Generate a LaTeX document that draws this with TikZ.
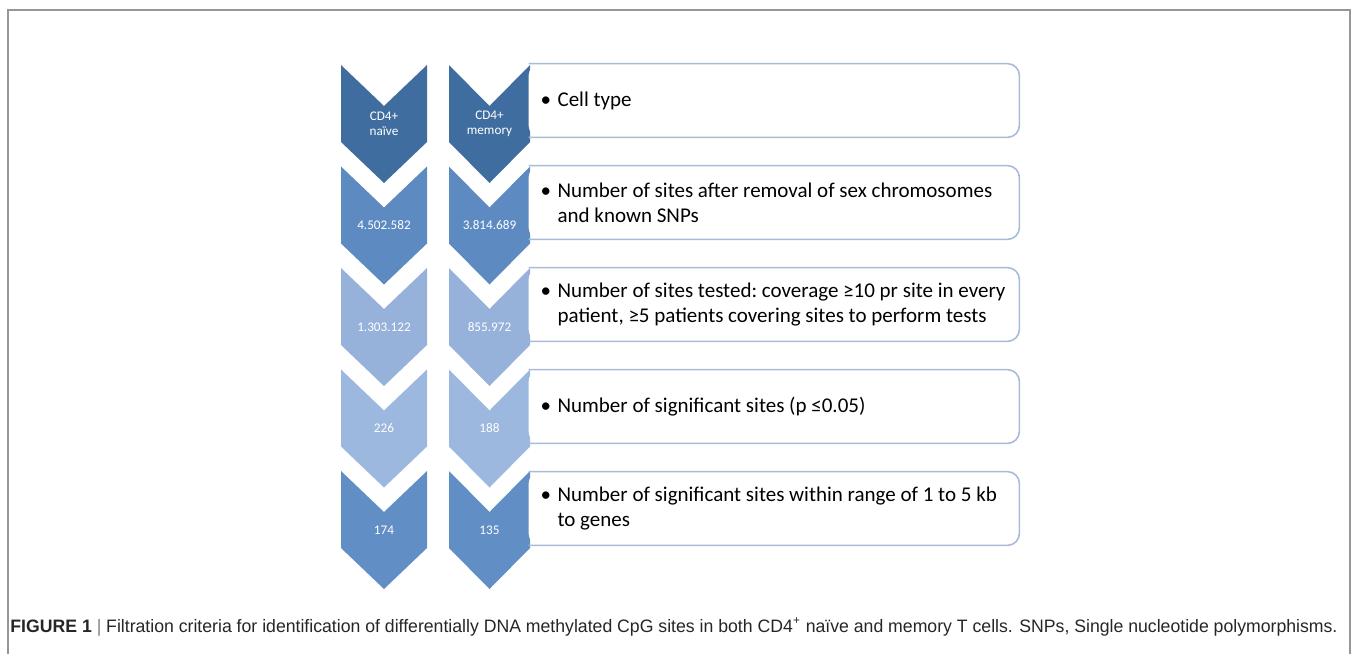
\documentclass[tikz,border=0pt]{standalone}
\usepackage{fontspec}
\usepackage{graphicx}
\setmainfont{Carlito}
\newfontfamily\capfont{Liberation Sans}
\usetikzlibrary{positioning}

% colours of the rows
\definecolor{rowA}{RGB}{64,109,160}
\definecolor{rowB}{RGB}{93,139,193}
\definecolor{rowC}{RGB}{150,178,219}
\definecolor{rowD}{RGB}{157,184,223}
\definecolor{rowE}{RGB}{97,142,197}
\definecolor{boxline}{RGB}{168,188,216}
\definecolor{frame}{RGB}{150,150,150}

\tikzset{
  lab/.style={text=white, align=center, font=\fontsize{6.6}{7.5}\selectfont},
  box/.style={minimum width=245pt, minimum height=36.5pt, inner sep=0pt},
  boxedge/.style={draw=boxline, line width=0.8pt, rounded corners=6pt},
  txt/.style={anchor=west, align=left, inner sep=0pt, font=\fontsize{10.5}{12.5}\selectfont\frenchspacing},
}

\begin{document}
\begin{tikzpicture}[x=0.5pt, y=-0.5pt]
  \useasboundingbox (0,0) rectangle (1354,654);

  % rahmen
  \draw[frame, line width=0.8pt] (8,654) -- (8,10) -- (1350,10) -- (1350,654);

  % chevrons, left: naive, right: memory
  \foreach \i/\na/\nb/\col in {1/{CD4+\\naïve}/{CD4+\\memory}/rowA,
                               2/4.502.582/3.814.689/rowB,
                               3/1.303.122/855.972/rowC,
                               4/226/188/rowD,
                               5/174/135/rowE} {
    \pgfmathsetmacro\yt{65+(\i-1)*101.5}
    \fill[\col] (341,\yt) -- (384,\yt+41) -- (427,\yt) -- (427,\yt+77)
                -- (384,\yt+118) -- (341,\yt+77) -- cycle;
    \fill[\col] (449,\yt) -- (489.5,\yt+41) -- (530,\yt) -- (530,\yt+77)
                -- (489.5,\yt+118) -- (449,\yt+77) -- cycle;
    \node[lab] (na\i) at (384,\yt+59) {\na};
    \node[lab] (me\i) at (489.5,\yt+59) {\nb};
  }

  % boxes with criteria
  \foreach \i/\t in {1/{Cell type},
                     2/{Number of sites after removal of sex chromosomes\\\hspace*{8.5pt}and known SNPs},
                     3/{Number of sites tested: coverage ≥10 pr site in every\\\hspace*{8.5pt}patient, ≥5 patients covering sites to perform tests},
                     4/{Number of significant sites (p ≤0.05)},
                     5/{Number of significant sites within range of 1 to 5 kb\\\hspace*{8.5pt}to genes}} {
    \pgfmathsetmacro\yc{100.5+(\i-1)*102}
    \node[box] (b\i) at (774,\yc) {};
    \fill[white, rounded corners=6pt] (b\i.north west) -- (b\i.north east)
          -- (b\i.south east) -- (b\i.south west) -- cycle;
    \draw[boxedge] (b\i.south west) -- (b\i.south east) -- (b\i.north east) -- (b\i.north west);
    \node[txt] (t\i) at ([xshift=5.8pt]b\i.west) {\makebox[8.5pt][l]{\textbullet}\t};
  }

  % caption
  \node[anchor=base west, inner sep=0pt, text=black!85, font=\capfont\fontsize{9}{11}\selectfont] (cap) at (10,632)
    {\resizebox{663.5pt}{\height}{\textbf{FIGURE 1}\ \textcolor{black!50}{|}\ Filtration criteria for identification of differentially DNA methylated CpG sites in both CD4\textsuperscript{+} naïve and memory T cells. SNPs, Single nucleotide polymorphisms.}};
\end{tikzpicture}
\end{document}
